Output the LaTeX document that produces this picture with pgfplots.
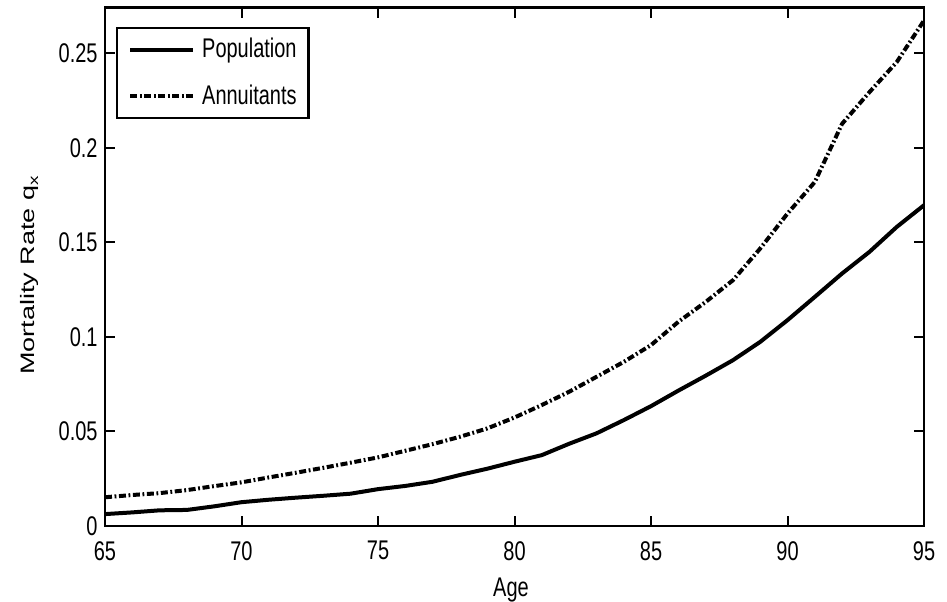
\documentclass[border=0pt]{standalone}
\usepackage{fontspec}
\setmainfont{Liberation Sans}[FakeStretch=0.74]
\newfontfamily\ylabfont{Liberation Sans}
\usepackage{graphicx}
\usepackage{pgfplots}
\pgfplotsset{compat=1.18}

\pgfplotstableread{
age q
65 0.0063
66 0.0072
67 0.0083
68 0.0085
69 0.0104
70 0.0126
71 0.0139
72 0.0150
73 0.0160
74 0.0171
75 0.0195
76 0.0212
77 0.0234
78 0.0270
79 0.0303
80 0.0340
81 0.0375
82 0.0435
83 0.0490
84 0.0560
85 0.0634
86 0.0716
87 0.0795
88 0.0877
89 0.0974
90 0.1089
91 0.1212
92 0.1336
93 0.1450
94 0.1582
95 0.1697
}\population

\pgfplotstableread{
age q
65 0.0152
66 0.0164
67 0.0174
68 0.0190
69 0.0211
70 0.0231
71 0.0257
72 0.0282
73 0.0308
74 0.0335
75 0.0363
76 0.0398
77 0.0433
78 0.0472
79 0.0516
80 0.0574
81 0.0640
82 0.0710
83 0.0789
84 0.0868
85 0.0957
86 0.1080
87 0.1185
88 0.1300
89 0.1468
90 0.1653
91 0.1820
92 0.2128
93 0.2295
94 0.2454
95 0.2674
}\annuitants

\begin{document}
\fontsize{13.5pt}{16pt}\selectfont
\begin{tikzpicture}
\begin{axis}[
  scale only axis,
  width=409.5pt, height=259.25pt,
  xmin=65, xmax=95, ymin=0, ymax=0.2743,
  xtick={65,70,75,80,85,90,95},
  xticklabels={65,70,75,80,85,90,95},
  ytick={0,0.05,0.1,0.15,0.2,0.25},
  yticklabels={0,0.05,0.1,0.15,0.2,0.25},
  tick align=inside,
  major tick length=5pt,
  axis line style={line width=1.3pt},
  every tick/.style={line width=1pt, black},
  tick label style={font=\fontsize{13.5pt}{16pt}\selectfont},
  xticklabel style={yshift=-3pt},
  yticklabel style={xshift=1pt},
  xlabel={Age},
  xlabel style={at={(axis description cs:0.4957,-0.136)}, anchor=base, font=\fontsize{13.5pt}{16pt}\selectfont},
  ylabel={\ylabfont\scalebox{1}[0.72]{Mortality Rate q\textsubscript{x}}},
  ylabel style={at={(axis description cs:-0.0855,0.484)}, anchor=base, font=\fontsize{13.5pt}{16pt}\selectfont},
  legend style={at={(axis description cs:0.01343,0.963)}, anchor=north west,
    draw=black, line width=1.2pt, inner xsep=5.5pt, inner ysep=3pt,
    row sep=7.5pt, column sep=3pt, nodes={inner xsep=0.5pt},
    font=\fontsize{13.5pt}{16pt}\selectfont},
  legend cell align=left,
  legend image code/.code={\draw[#1] (0pt,0pt) -- (31.5pt,0pt);},
]
\addplot[black, line width=2pt, line join=round] table[x=age,y=q]{\population};
\addlegendentry{Population}
\addplot[black, line width=2pt, dash pattern=on 3.5pt off 1.3pt on 0.9pt off 1.3pt] table[x=age,y=q]{\annuitants};
\addlegendentry{Annuitants}
\end{axis}
\pgfresetboundingbox
\path[use as bounding box] ([xshift=-52.5pt,yshift=-37.5pt]current axis.south west) rectangle ([xshift=11.5pt,yshift=3.75pt]current axis.north east);
\end{tikzpicture}
\end{document}
